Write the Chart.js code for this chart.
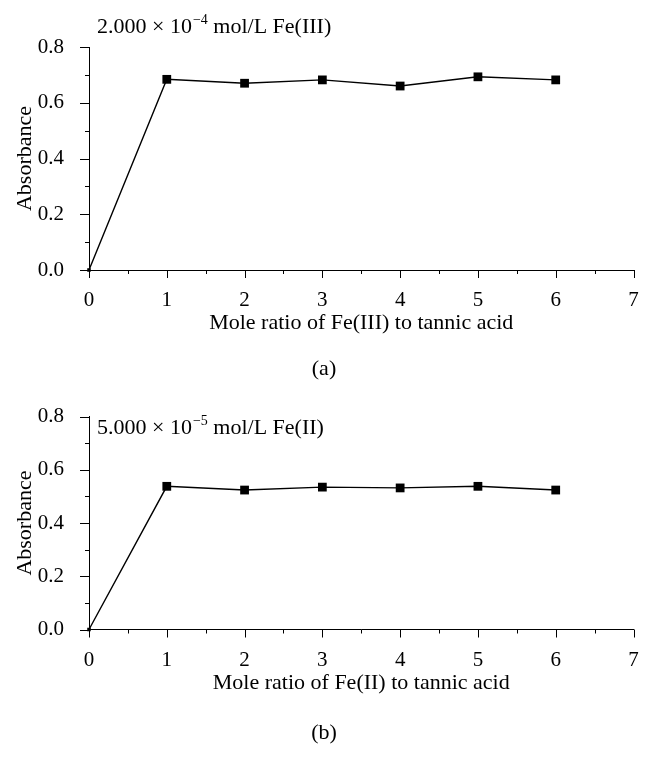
<!DOCTYPE html>
<html>
<head>
<meta charset="utf-8">
<script src="https://cdn.jsdelivr.net/npm/chart.js@4.4.1/dist/chart.umd.min.js"></script>
<style>
  body { margin: 0; background: #fff; }
  .box { position: relative; width: 654px; height: 387px; }
</style>
</head>
<body>
<div class="box"><canvas id="chartA"></canvas></div>
<div class="box"><canvas id="chartB"></canvas></div>
<script>
// data
const ratios = [0, 1, 2, 3, 4, 5, 6];
const absFe3 = [0, 0.684, 0.670, 0.682, 0.660, 0.693, 0.682];
const absFe2 = [0, 0.538, 0.524, 0.535, 0.532, 0.538, 0.524];
const xTicks = [0, 1, 2, 3, 4, 5, 6, 7];
const yTicks = [0, 0.2, 0.4, 0.6, 0.8];

const FONT = '"Liberation Serif", "Times New Roman", serif';
Chart.defaults.font.family = FONT;
Chart.defaults.color = '#000';

// minor/major tick marks, concentration note and panel caption
const extras = {
    id: 'extras',
    afterDraw(chart, args, opts) {
        const {ctx, scales: {x, y}} = chart;
        ctx.save();
        ctx.strokeStyle = '#000';
        ctx.lineWidth = 1;
        ctx.beginPath();
        for (let i = 0; i <= xTicks[xTicks.length - 1] * 2; i++) {
            const px = Math.round(x.getPixelForValue(i / 2)) + 0.5;
            const len = i % 2 ? 4 : 8;
            ctx.moveTo(px, y.bottom);
            ctx.lineTo(px, y.bottom + len);
        }
        for (let i = 0; i <= 8; i++) {
            const py = Math.round(y.getPixelForValue(i / 10)) + 0.5;
            const len = i % 2 ? 4 : 9;
            ctx.moveTo(x.left, py);
            ctx.lineTo(x.left - len, py);
        }
        ctx.stroke();

        // concentration label with superscript
        ctx.fillStyle = '#000';
        ctx.textBaseline = 'alphabetic';
        ctx.textAlign = 'left';
        let tx = opts.noteX;
        ctx.font = '22px ' + FONT;
        ctx.fillText(opts.note[0], tx, opts.noteY);
        tx += ctx.measureText(opts.note[0]).width + 1;
        ctx.font = '14px ' + FONT;
        ctx.fillText(opts.note[1], tx, opts.noteY - 9);
        tx += ctx.measureText(opts.note[1]).width;
        ctx.font = '22px ' + FONT;
        ctx.fillText(opts.note[2], tx, opts.noteY);

        // (a) / (b)
        ctx.textAlign = 'center';
        ctx.textBaseline = 'middle';
        ctx.fillText(opts.caption, 324, opts.captionY);
        ctx.restore();
    }
};

const makeChart = (id, values, xTitle, top, zeroY, titlePad, extraOpts) => {
    const data = {
        datasets: [{
            data: ratios.map((r, i) => ({x: r, y: values[i]})),
            borderColor: '#000',
            borderWidth: 1.4,
            backgroundColor: '#000',
            pointStyle: 'rect',
            pointRadius: ratios.map((r, i) => i === 0 ? 2.5 : 6.2),
            pointBorderWidth: 0,
            pointBackgroundColor: '#000',
            tension: 0,
            clip: false
        }]
    };
    const config = {
        type: 'line',
        data,
        options: {
            responsive: true,
            maintainAspectRatio: false,
            animation: false,
            layout: {padding: {top: top, left: 0, right: 20.5, bottom: 0}},
            plugins: {
                legend: {display: false},
                tooltip: {enabled: false},
                extras: extraOpts
            },
            scales: {
                x: {
                    type: 'linear',
                    min: 0,
                    max: 7,
                    afterBuildTicks: s => { s.ticks = xTicks.map(v => ({value: v})); },
                    afterFit: s => { s.height = 387 - zeroY; },
                    grid: {display: false},
                    border: {display: true, color: '#000', width: 1},
                    ticks: {
                        padding: 10,
                        font: {size: 21},
                        maxRotation: 0,
                        callback: v => String(v)
                    },
                    title: {
                        display: true,
                        text: xTitle,
                        font: {size: 22},
                        padding: {top: 0, bottom: titlePad}
                    }
                },
                y: {
                    min: 0,
                    max: 0.8,
                    afterBuildTicks: s => { s.ticks = yTicks.map(v => ({value: v})); },
                    afterFit: s => { s.width = 89; },
                    grid: {display: false},
                    border: {display: true, color: '#000', width: 1},
                    ticks: {
                        padding: 17,
                        font: {size: 21},
                        callback: v => v.toFixed(1)
                    },
                    title: {
                        display: true,
                        text: 'Absorbance',
                        font: {size: 22},
                        padding: {top: 12, bottom: 0}
                    }
                }
            }
        },
        plugins: [extras]
    };
    return new Chart(id, config);
};

makeChart('chartA', absFe3, 'Mole ratio of Fe(III) to tannic acid', 47, 270, 51,
    {note: ['2.000 \u00d7 10', '\u22124', ' mol/L Fe(III)'], noteX: 97, noteY: 33, caption: '(a)', captionY: 369});
makeChart('chartB', absFe2, 'Mole ratio of Fe(II) to tannic acid', 21, 242.5, 78,
    {note: ['5.000 \u00d7 10', '\u22125', ' mol/L Fe(II)'], noteX: 97, noteY: 47, caption: '(b)', captionY: 346});
</script>
</body>
</html>
